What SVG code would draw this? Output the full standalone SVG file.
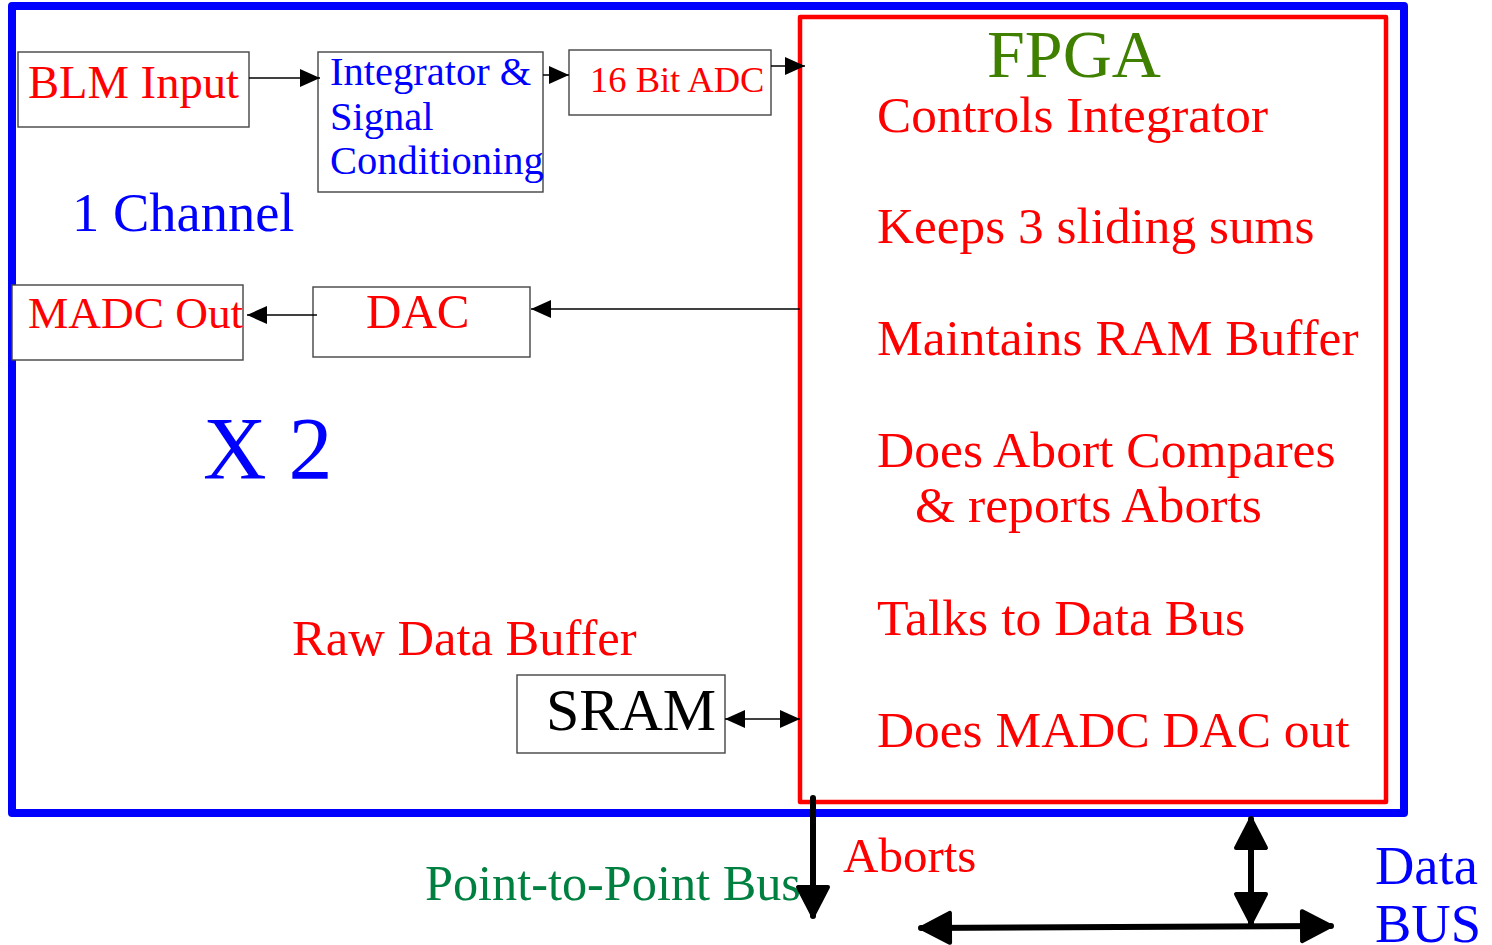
<svg xmlns="http://www.w3.org/2000/svg" width="1492" height="945" viewBox="0 0 1492 945">
  <style>
    text { font-family: "Liberation Serif", "Times New Roman", serif; }
    .box { fill: #ffffff; stroke: #444444; stroke-width: 1.4; }
    .red { fill: #ff0000; }
    .blue { fill: #0000ff; }
    .thin { stroke: #000000; stroke-width: 1.5; fill: none; }
    .thick { stroke: #000000; stroke-width: 6; fill: none; stroke-linecap: round; }
  </style>
  <defs>
    <marker id="arrow" markerUnits="userSpaceOnUse" markerWidth="20" markerHeight="18" refX="20" refY="9" orient="auto-start-reverse">
      <path d="M0,0 L20,9 L0,18 Z" fill="#000000"/>
    </marker>
    <marker id="bigArrow" markerUnits="userSpaceOnUse" markerWidth="36" markerHeight="36" viewBox="-3 -3 36 36" refX="29" refY="15" orient="auto-start-reverse" overflow="visible">
      <path d="M0,0 L29,15 L0,30 Z" fill="#000000" stroke="#000000" stroke-width="4" stroke-linejoin="round"/>
    </marker>
  </defs>

  <rect width="1492" height="945" fill="#ffffff"/>

  <!-- board outline -->
  <g id="board">
    <rect x="12" y="6" width="1392" height="807" fill="none" stroke="#0000ff" stroke-width="8" stroke-linejoin="round"/>
    <text x="72" y="231" font-size="54.5" class="blue">1 Channel</text>
    <text x="203" y="478" font-size="88" class="blue">X 2</text>
  </g>

  <!-- FPGA block -->
  <g id="fpga">
    <rect x="800" y="17" width="586" height="785" fill="none" stroke="#ff0000" stroke-width="4.5" stroke-linejoin="round"/>
    <text x="987" y="77" font-size="68" fill="#408000">FPGA</text>
    <text x="877" y="132" font-size="51.2" class="red">Controls Integrator</text>
    <text x="877" y="243" font-size="51.3" class="red">Keeps 3 sliding sums</text>
    <text x="877" y="355" font-size="51.4" class="red">Maintains RAM Buffer</text>
    <text x="877" y="467" font-size="51.6" class="red">Does Abort Compares</text>
    <text x="915" y="522" font-size="51.6" class="red">&amp; reports Aborts</text>
    <text x="877" y="635" font-size="51.7" class="red">Talks to Data Bus</text>
    <text x="877" y="747" font-size="51.4" class="red">Does MADC DAC out</text>
  </g>

  <g id="blm-input">
    <rect class="box" x="18" y="52" width="231" height="75"/>
    <text x="28" y="98" font-size="46.6" class="red">BLM Input</text>
  </g>

  <g id="integrator">
    <rect class="box" x="318" y="52" width="225" height="140"/>
    <text x="330" y="85" font-size="40.5" class="blue">Integrator &amp;</text>
    <text x="330" y="130" font-size="40.5" class="blue">Signal</text>
    <text x="330" y="174" font-size="40.5" class="blue">Conditioning</text>
  </g>

  <g id="adc">
    <rect class="box" x="569" y="50" width="202" height="65"/>
    <text x="590" y="92" font-size="36.5" class="red">16 Bit ADC</text>
  </g>

  <g id="madc-out">
    <rect class="box" x="12" y="285" width="231" height="75"/>
    <text x="28" y="328" font-size="45.3" class="red">MADC Out</text>
  </g>

  <g id="dac">
    <rect class="box" x="313" y="287" width="217" height="70"/>
    <text x="366" y="328" font-size="49" class="red">DAC</text>
  </g>

  <g id="sram">
    <text x="292" y="655" font-size="50.6" class="red">Raw Data Buffer</text>
    <rect class="box" x="517" y="675" width="208" height="78"/>
    <text x="546" y="730" font-size="60" fill="#000000">SRAM</text>
  </g>

  <g id="labels">
    <text x="425" y="900" font-size="50.3" fill="#008040">Point-to-Point Bus</text>
    <text x="843" y="872" font-size="49" class="red">Aborts</text>
    <text x="1375" y="884" font-size="54.5" class="blue">Data</text>
    <text x="1375" y="942" font-size="54.5" class="blue">BUS</text>
  </g>

  <!-- connectors -->
  <g id="connectors">
    <line class="thin" x1="249" y1="78" x2="320" y2="78" marker-end="url(#arrow)"/>
    <line class="thin" x1="543" y1="75" x2="569" y2="75" marker-end="url(#arrow)"/>
    <line class="thin" x1="771" y1="66" x2="805" y2="66" marker-end="url(#arrow)"/>
    <line class="thin" x1="800" y1="309" x2="531" y2="309" marker-end="url(#arrow)"/>
    <line class="thin" x1="317" y1="315" x2="247" y2="315" marker-end="url(#arrow)"/>
    <line class="thin" x1="725" y1="719" x2="800" y2="719" marker-start="url(#arrow)" marker-end="url(#arrow)"/>
    <line class="thick" x1="813" y1="798" x2="813" y2="916" marker-end="url(#bigArrow)"/>
    <line class="thick" x1="1251" y1="819" x2="1251" y2="923" marker-start="url(#bigArrow)" marker-end="url(#bigArrow)"/>
    <line class="thick" x1="921" y1="928" x2="1331" y2="926" marker-start="url(#bigArrow)" marker-end="url(#bigArrow)"/>
  </g>
</svg>
